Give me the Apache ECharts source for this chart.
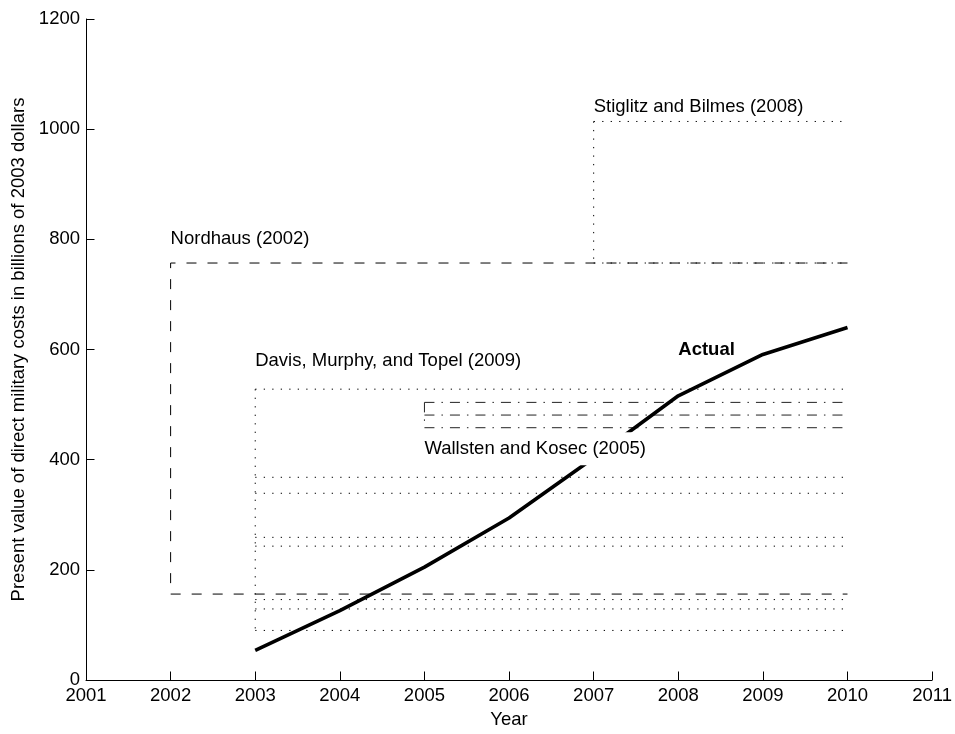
<!DOCTYPE html>
<html>
<head>
<meta charset="utf-8">
<script src="https://cdn.jsdelivr.net/npm/echarts@6/dist/echarts.min.js"></script>
<style>
html,body{margin:0;padding:0;background:#fff;overflow:hidden;}
#chart{width:955px;height:734px;}
</style>
</head>
<body>
<div id="chart"></div>
<script>
// ---- data ----
var actualYears = [2003, 2004, 2005, 2006, 2007, 2008, 2009, 2010];
var actualValues = [54, 126, 205, 294, 403, 516, 591, 640];
var endYear = 2010;

var nordhausStart = 2002;
var nordhausLevels = [757, 156];

var dmtStart = 2003;
var dmtLevels = [528, 368, 339, 259, 243, 146, 129, 90];

var wkStart = 2005;
var wkLevels = [504, 481, 458];

var sbStart = 2007;
var sbLevels = [1014, 757];

var annoTexts = ['Nordhaus (2002)', 'Davis, Murphy, and Topel (2009)', 'Wallsten and Kosec (2005)', 'Stiglitz and Bilmes (2008)', 'Actual'];
var annoX = [2002, 2003, 2005, 2007, 2008];
var annoY = [800, 579, 420, 1040, 600];

var xTicks = [2001, 2011, 1];
var yTicks = [0, 1200, 200];

// ---- build ----
var FONT = '"Liberation Sans", Arial, Helvetica, sans-serif';
var FS = 18.5;
var DOTTED = [1.3, 7.2];
var DASHED = [10, 11];
var DASHDOT = [10, 7, 1.5, 7];

var series = [];
function seg(points, dash, color, width) {
  series.push({
    type: 'line', data: points, symbol: 'none', silent: true,
    lineStyle: {color: color || '#000', width: width || 1, type: dash},
    z: 2, animation: false
  });
}
function box(start, levels, dash, color) {
  levels.forEach(function (lv) { seg([[start, lv], [endYear, lv]], dash, color); });
  var mn = Math.min.apply(null, levels), mx = Math.max.apply(null, levels);
  seg([[start, mx], [start, mn]], dash, color);
}
// Nordhaus as continuous bracket
seg([[endYear, nordhausLevels[0]], [nordhausStart, nordhausLevels[0]], [nordhausStart, nordhausLevels[1]], [endYear, nordhausLevels[1]]], DASHED, '#000');
box(dmtStart, dmtLevels, DOTTED, '#000');
box(wkStart, wkLevels, DASHDOT, '#222');
box(sbStart, sbLevels, DOTTED, '#000');

series.push({
  type: 'line', silent: true, symbol: 'none', animation: false, z: 5,
  data: actualYears.map(function (y, i) { return [y, actualValues[i]]; }),
  lineStyle: {color: '#000', width: 3.6}
});

series.push({
  type: 'scatter', silent: true, animation: false, z: 10, symbolSize: 0,
  itemStyle: {opacity: 1},
  data: annoTexts.map(function (t, i) {
    var item = {name: t, value: [annoX[i], annoY[i]]};
    if (t === 'Actual') item.label = {fontWeight: 'bold'};
    if (i === 2) item.label = {backgroundColor: '#fff', padding: [7, 3, 7, 0]};
    return item;
  }),
  label: {
    show: true, position: 'right', distance: 0, formatter: '{b}',
    color: '#000', fontSize: FS, fontFamily: FONT
  }
});

var chart = echarts.init(document.getElementById('chart'), null, {renderer: 'canvas'});
chart.setOption({
  backgroundColor: '#fff',
  animation: false,
  grid: {left: 86, right: 19, top: 19, bottom: 47, containLabel: false},
  xAxis: {
    type: 'value', min: xTicks[0], max: xTicks[1], interval: xTicks[2],
    name: 'Year', nameLocation: 'middle', nameGap: 30,
    nameTextStyle: {color: '#000', fontSize: FS, fontFamily: FONT},
    axisLine: {show: true, lineStyle: {color: '#000', width: 1}},
    axisTick: {show: true, inside: true, length: 8.5, lineStyle: {color: '#000'}},
    axisLabel: {color: '#000', fontSize: FS, fontFamily: FONT, margin: 6, formatter: function (v) { return String(v); }},
    splitLine: {show: false}
  },
  yAxis: {
    type: 'value', min: yTicks[0], max: yTicks[1], interval: yTicks[2],
    name: 'Present value of direct military costs in billions of 2003 dollars',
    nameLocation: 'middle', nameGap: 58,
    nameTextStyle: {color: '#000', fontSize: FS, fontFamily: FONT},
    axisLine: {show: true, lineStyle: {color: '#000', width: 1}},
    axisTick: {show: true, inside: true, length: 8.5, lineStyle: {color: '#000'}},
    axisLabel: {color: '#000', fontSize: FS, fontFamily: FONT, margin: 6, formatter: function (v) { return String(v); }},
    splitLine: {show: false}
  },
  series: series
});
</script>
</body>
</html>
